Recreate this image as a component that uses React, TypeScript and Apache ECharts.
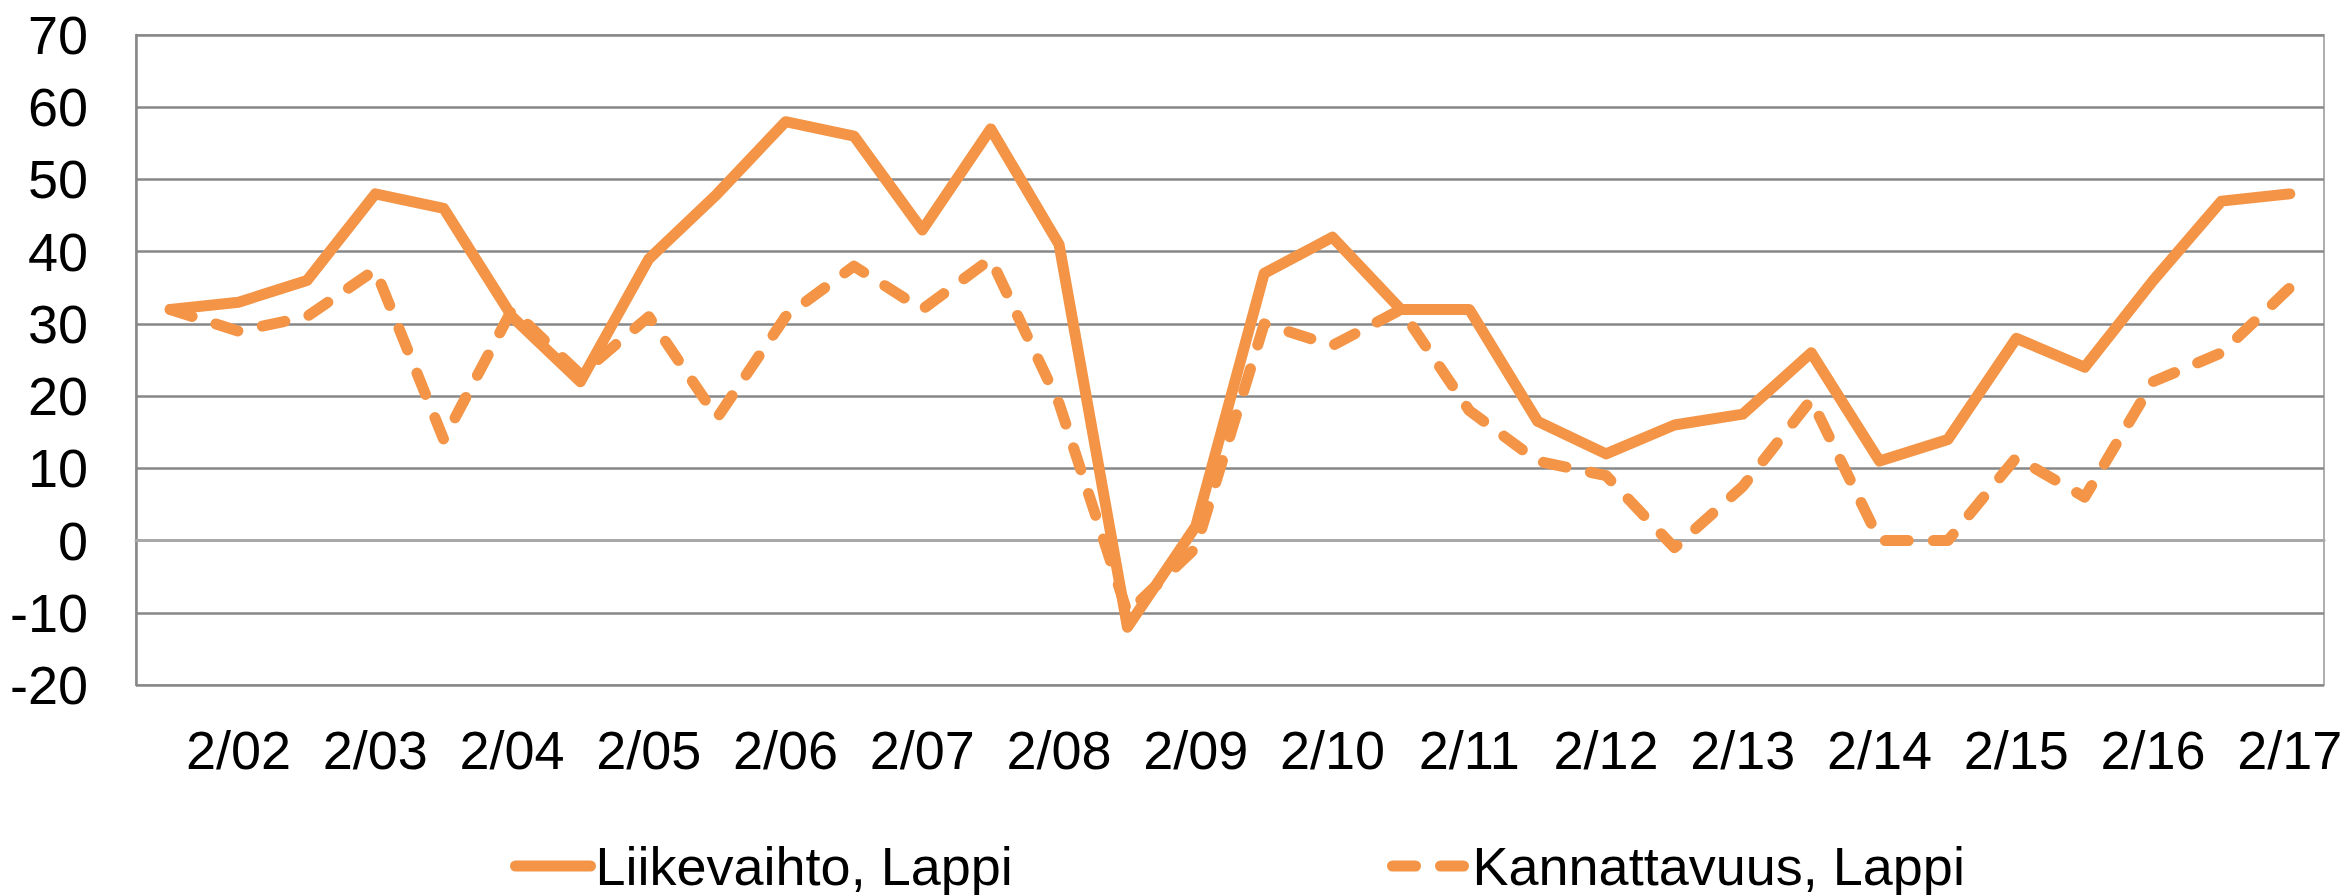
import React, { useEffect, useRef } from "react";
import * as echarts from "echarts";

const categories = [
  "1/02", "2/02", "1/03", "2/03", "1/04", "2/04", "1/05", "2/05",
  "1/06", "2/06", "1/07", "2/07", "1/08", "2/08", "1/09", "2/09",
  "1/10", "2/10", "1/11", "2/11", "1/12", "2/12", "1/13", "2/13",
  "1/14", "2/14", "1/15", "2/15", "1/16", "2/16", "1/17", "2/17",
];

const liikevaihto = [
  32, 33, 36, 48, 46, 31, 22, 39,
  48, 58, 56, 43, 57, 41, -12, 2,
  37, 42, 32, 32, 16.5, 12, 16, 17.5,
  26, 11, 14, 28, 24, 36, 47, 48,
];

const kannattavuus = [
  32, 29, 31, 37.5, 14, 32, 23, 31,
  17, 31, 38, 32, 39, 19, -10, -1,
  30, 27, 32, 18, 11, 9, -1, 7.5,
  19.5, 0, 0, 11.5, 6, 22, 26, 35,
];

const yMin = -20;
const yMax = 70;
const yStep = 10;

const seriesNames = ["Liikevaihto, Lappi", "Kannattavuus, Lappi"];

const ORANGE = "#F39447";
const FONT = "'Liberation Sans', Arial, sans-serif";

export default function App() {
  const ref = useRef<HTMLDivElement>(null);

  useEffect(() => {
    document.body.style.margin = "0";
    if (!ref.current) return;
    const chart = echarts.init(ref.current, undefined, { renderer: "svg" });
    const dash = [23, 25];
    const LW = 11;
    const legendCommon = {
      top: 838,
      padding: 0,
      itemWidth: 75,
      itemHeight: 2,
      itemStyle: { opacity: 0 },
      textStyle: { fontFamily: FONT, fontSize: 54, lineHeight: 56, color: "#000" },
    };
    chart.setOption({
      animation: false,
      backgroundColor: "#ffffff",
      textStyle: { fontFamily: FONT },
      grid: {
        left: 136,
        right: 27,
        top: 35,
        bottom: 210,
        show: true,
        borderColor: "#b0b0b0",
        borderWidth: 2,
        backgroundColor: "transparent",
      },
      legend: [
        {
          ...legendCommon,
          data: [seriesNames[0]],
          left: 510,
          lineStyle: { width: LW, cap: "round" },
        },
        {
          ...legendCommon,
          data: [seriesNames[1]],
          left: 1387,
          lineStyle: { width: LW, cap: "round", type: dash },
        },
      ],
      xAxis: {
        type: "category",
        data: categories,
        boundaryGap: true,
        axisLine: { show: true, lineStyle: { color: "#a8a8a8", width: 3 } },
        axisTick: { show: false },
        axisLabel: {
          interval: (index: number) => index % 2 === 1,
          fontFamily: FONT,
          fontSize: 54,
          color: "#000",
          margin: 38,
        },
        splitLine: { show: false },
      },
      yAxis: {
        type: "value",
        min: yMin,
        max: yMax,
        interval: yStep,
        axisLine: { show: true, lineStyle: { color: "#878787", width: 2.5 } },
        axisTick: { show: false },
        axisLabel: {
          fontFamily: FONT,
          fontSize: 54,
          color: "#000",
          margin: 48,
        },
        splitLine: { show: true, lineStyle: { color: "#878787", width: 2.5 } },
      },
      series: [
        {
          name: seriesNames[0],
          type: "line",
          data: liikevaihto,
          showSymbol: false,
          symbol: "none",
          color: ORANGE,
          lineStyle: { color: ORANGE, width: LW, cap: "round", join: "round" },
        },
        {
          name: seriesNames[1],
          type: "line",
          data: kannattavuus,
          showSymbol: false,
          symbol: "none",
          color: ORANGE,
          lineStyle: {
            color: ORANGE,
            width: LW,
            type: dash,
            cap: "round",
            join: "round",
          },
        },
      ],
    });
    return () => chart.dispose();
  }, []);

  return <div ref={ref} style={{ width: 2351, height: 895 }} />;
}
